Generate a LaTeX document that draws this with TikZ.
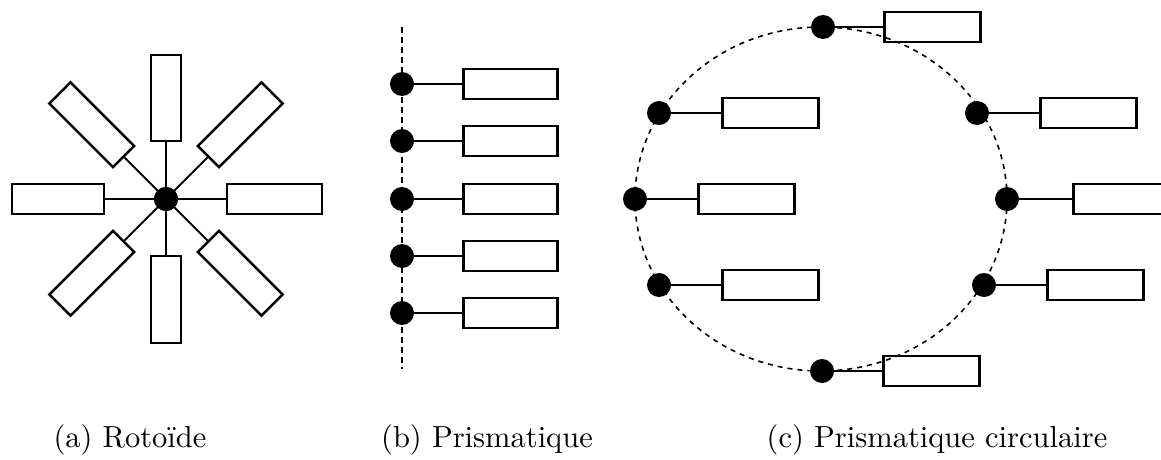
\documentclass[tikz,border=0pt]{standalone}
\usepackage{fontspec}
\newfontfamily\capfont{lmroman10-regular.otf}
\usetikzlibrary{calc}
\begin{document}
\begin{tikzpicture}[x=1pt,y=-1pt,
  box/.style={draw,line width=2.5pt,minimum height=30pt,inner sep=0pt},
  joint/.style={circle,fill=black,minimum size=24pt,inner sep=0pt},
  link/.style={line width=2pt},
  railline/.style={line width=1.7pt,dash pattern=on 6pt off 4pt},
  ringline/.style={line width=1.6pt,dash pattern=on 5pt off 5pt},
  captext/.style={anchor=base,font=\capfont\fontsize{30.5}{36}\selectfont}]
\useasboundingbox (0,0) rectangle (1161,460);

% (a) Rotoide
\node[joint] (c) at (166,199) {};
\foreach \a/\i/\l [count=\k] in {0/61/95, 45/60/90, 90/57/87, 135/60/90, 180/62/92, 225/60/90, 270/58/86, 315/60/90} {
  \node[box,minimum width=\l pt,rotate=-\a] (arm\k) at ($(c.center)+(\a:{\i+\l/2})$) {};
  \draw[link] (c.center) -- (arm\k.west);
}
\node[joint] at (c.center) {};

% (b) Prismatique
\coordinate (rtop) at (402,27);
\coordinate (rbot) at (402,369);
\draw[railline] (rtop) -- (rbot);
\foreach \y [count=\k] in {84,141,199,256,313} {
  \node[joint] (p\k) at (402,\y) {};
  \node[box,minimum width=94pt,anchor=west] (pb\k) at (462,\y) {};
  \draw[link] (p\k.center) -- (pb\k.west);
}

% (c) Prismatique circulaire
\coordinate (ring) at (821,199);
\draw[ringline] (ring) ellipse [x radius=186, y radius=172];
\foreach \x/\y/\w [count=\k] in {823/27/883, 659/113/721, 635/199/697, 659/285/721, 822/371/882, 977/113/1039, 1007/199/1072, 984/285/1046} {
  \node[joint] (q\k) at (\x,\y) {};
  \node[box,minimum width=96pt,anchor=west] (qb\k) at (\w,\y) {};
  \draw[link] (q\k.center) -- (qb\k.west);
}

% captions
\node[captext] (capa) at (130,447) {(a) Rotoïde};
\node[captext] (capb) at (487,447) {(b) Prismatique};
\node[captext] (capc) at (937,447) {(c) Prismatique circulaire};
\end{tikzpicture}
\end{document}
